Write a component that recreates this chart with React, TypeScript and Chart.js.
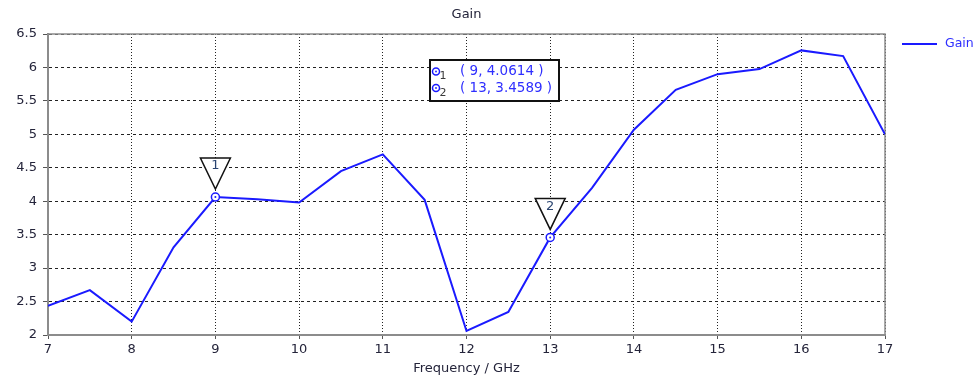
import React, { useEffect, useRef } from 'react';
import { Chart, registerables } from 'chart.js';

Chart.register(...registerables);

const frequencies = [7, 7.5, 8, 8.5, 9, 9.5, 10, 10.5, 11, 11.5, 12, 12.5, 13, 13.5, 14, 14.5, 15, 15.5, 16, 16.5, 17];
const gainValues = [2.435, 2.67, 2.2, 3.31, 4.0614, 4.03, 3.98, 4.45, 4.7, 4.02, 2.06, 2.345, 3.4589, 4.2, 5.07, 5.665, 5.9, 5.975, 6.255, 6.17, 5.0];
const markerIds = ['1', '2'];
const markerX = [9, 13];
const markerY = [4.0614, 3.4589];
const markerTexts = ['( 9, 4.0614 )', '( 13, 3.4589 )'];

const FONT = 'DejaVu Sans';
const TEXT_COLOR = '#24243a';
const LINE_COLOR = '#1a1aff';

const decorPlugin = {
  id: 'decor',
  beforeDatasetsDraw(chart: any) {
    const { ctx, chartArea } = chart;
    ctx.save();
    ctx.strokeStyle = '#8c8c8c';
    ctx.lineWidth = 1.5;
    ctx.strokeRect(chartArea.left, chartArea.top, chartArea.right - chartArea.left, chartArea.bottom - chartArea.top);
    ctx.restore();
  },
  afterDatasetsDraw(chart: any) {
    const { ctx, chartArea, scales } = chart;
    const xs = scales.x;
    const ys = scales.y;
    ctx.save();
    // title
    ctx.fillStyle = TEXT_COLOR;
    ctx.font = `13px "${FONT}"`;
    ctx.textAlign = 'center';
    ctx.textBaseline = 'middle';
    ctx.fillText('Gain', (chartArea.left + chartArea.right) / 2, 15);

    // markers
    markerIds.forEach((id, i) => {
      const px = xs.getPixelForValue(markerX[i]);
      const py = ys.getPixelForValue(markerY[i]);
      ctx.beginPath();
      ctx.moveTo(px - 15, py - 39);
      ctx.lineTo(px + 15, py - 39);
      ctx.lineTo(px, py - 8);
      ctx.closePath();
      ctx.fillStyle = '#ffffff';
      ctx.fill();
      ctx.strokeStyle = '#111111';
      ctx.lineWidth = 1.5;
      ctx.stroke();
      ctx.fillStyle = '#2a4470';
      ctx.font = `13px "${FONT}"`;
      ctx.textAlign = 'center';
      ctx.textBaseline = 'middle';
      ctx.fillText(id, px, py - 31);

      ctx.beginPath();
      ctx.arc(px, py, 4, 0, Math.PI * 2);
      ctx.fillStyle = '#ffffff';
      ctx.fill();
      ctx.strokeStyle = LINE_COLOR;
      ctx.lineWidth = 1.5;
      ctx.stroke();
      ctx.beginPath();
      ctx.arc(px, py, 1, 0, Math.PI * 2);
      ctx.fillStyle = LINE_COLOR;
      ctx.fill();
    });

    // marker table box
    const bx = chartArea.left + 382;
    const by = chartArea.top + 26;
    const bw = 129;
    const bh = 41;
    ctx.fillStyle = '#ffffff';
    ctx.fillRect(bx, by, bw, bh);
    ctx.strokeStyle = '#111111';
    ctx.lineWidth = 2;
    ctx.strokeRect(bx, by, bw, bh);
    markerTexts.forEach((t, i) => {
      const ry = by + 11.5 + i * 16.5;
      ctx.beginPath();
      ctx.arc(bx + 6, ry, 3.5, 0, Math.PI * 2);
      ctx.strokeStyle = LINE_COLOR;
      ctx.lineWidth = 1.5;
      ctx.stroke();
      ctx.beginPath();
      ctx.arc(bx + 6, ry, 0.9, 0, Math.PI * 2);
      ctx.fillStyle = LINE_COLOR;
      ctx.fill();
      ctx.fillStyle = '#3a3a3a';
      ctx.font = `11px "${FONT}"`;
      ctx.textAlign = 'center';
      ctx.textBaseline = 'middle';
      ctx.fillText(markerIds[i], bx + 13, ry + 5);
      ctx.fillStyle = '#2e2eff';
      ctx.font = `13.5px "${FONT}"`;
      ctx.textAlign = 'left';
      ctx.fillText(t, bx + 30, ry);
    });

    // legend
    const lx = chartArea.right + 17;
    const ly = chartArea.top + 10;
    ctx.strokeStyle = LINE_COLOR;
    ctx.lineWidth = 2;
    ctx.beginPath();
    ctx.moveTo(lx, ly);
    ctx.lineTo(lx + 35, ly);
    ctx.stroke();
    ctx.fillStyle = '#2e2eff';
    ctx.font = `12.5px "${FONT}"`;
    ctx.textAlign = 'left';
    ctx.textBaseline = 'middle';
    ctx.fillText('Gain', lx + 43, ly);
    ctx.restore();
  },
};

export default function App() {
  const ref = useRef<HTMLCanvasElement | null>(null);
  useEffect(() => {
    if (!ref.current) return;
    Chart.defaults.font.family = FONT;
    const chart = new Chart(ref.current, {
      type: 'line',
      data: {
        datasets: [
          {
            label: 'Gain',
            data: frequencies.map((f, i) => ({ x: f, y: gainValues[i] })),
            borderColor: LINE_COLOR,
            borderWidth: 2,
            pointRadius: 0,
            tension: 0,
            fill: false,
          },
        ],
      },
      options: {
        animation: false,
        responsive: false,
        devicePixelRatio: 1,
        layout: { padding: { top: 34, right: 95, left: 0, bottom: 0 } },
        plugins: { legend: { display: false }, tooltip: { enabled: false }, title: { display: false } },
        scales: {
          x: {
            type: 'linear',
            min: 7,
            max: 17,
            ticks: { stepSize: 1, color: TEXT_COLOR, font: { size: 13, family: FONT }, padding: 3, maxRotation: 0 },
            grid: { color: '#222222', lineWidth: 1, tickLength: 4, tickColor: '#555555' },
            border: { dash: [1, 2], color: '#8c8c8c', width: 2 },
            title: { display: true, text: 'Frequency / GHz', color: TEXT_COLOR, font: { size: 13, family: FONT }, padding: { top: 0, bottom: 0 } },
            afterFit: (s: any) => { s.height = 41; },
          },
          y: {
            type: 'linear',
            min: 2,
            max: 6.5,
            ticks: {
              stepSize: 0.5,
              color: TEXT_COLOR,
              font: { size: 13, family: FONT },
              padding: 6,
              callback: (v: any) => String(Number(v)),
            },
            grid: { color: '#222222', lineWidth: 1, tickLength: 5, tickColor: '#555555' },
            border: { dash: [3, 3], color: '#8c8c8c', width: 2 },
            afterFit: (s: any) => { s.width = 48; },
          },
        },
      },
      plugins: [decorPlugin],
    });
    return () => chart.destroy();
  }, []);
  return (
    <div style={{ position: 'fixed', left: 0, top: 0, width: 980, height: 376, background: '#fff' }}>
      <canvas ref={ref} width={980} height={376} style={{ width: 980, height: 376, display: 'block' }} />
    </div>
  );
}
